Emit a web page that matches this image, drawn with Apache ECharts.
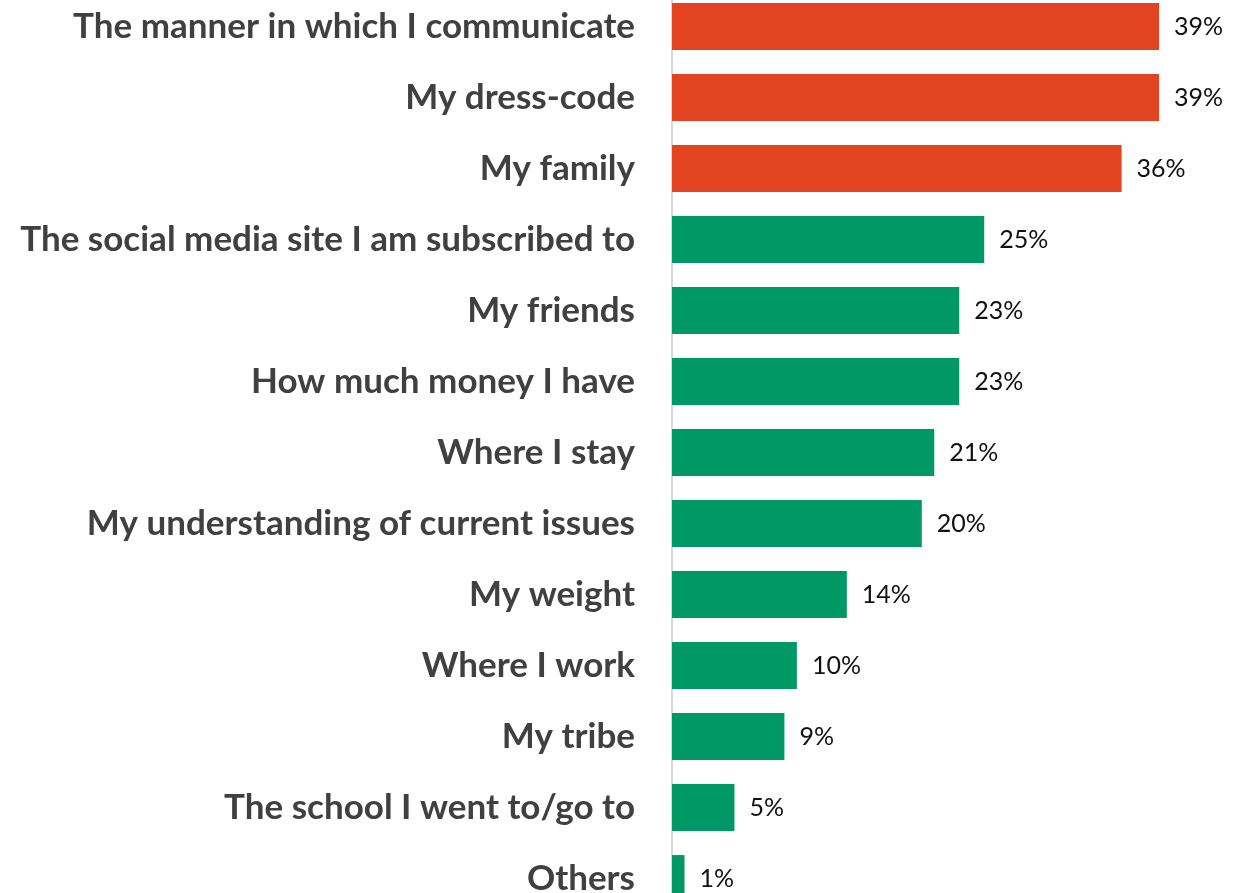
<!DOCTYPE html>
<html>
<head>
<meta charset="utf-8">
<style>
  html, body { margin: 0; padding: 0; background: #ffffff; }
  #chart { width: 1246px; height: 893px; }
</style>
<script src="https://cdn.jsdelivr.net/npm/echarts@6/dist/echarts.min.js"></script>
</head>
<body>
<div id="chart"></div>
<script>
// Share of respondents naming each factor (percent)
const categories = [
  'The manner in which I communicate',
  'My dress-code',
  'My family',
  'The social media site I am subscribed to',
  'My friends',
  'How much money I have',
  'Where I stay',
  'My understanding of current issues',
  'My weight',
  'Where I work',
  'My tribe',
  'The school I went to/go to',
  'Others'
];
const values = [39, 39, 36, 25, 23, 23, 21, 20, 14, 10, 9, 5, 1];
// The top three factors are highlighted
const highlightCount = 3;

const RED = '#E24422';
const GREEN = '#009966';

const chart = echarts.init(document.getElementById('chart'), null, { renderer: 'canvas' });

chart.setOption({
  animation: false,
  backgroundColor: '#ffffff',
  grid: {
    left: 672, width: 562, top: -9, height: 923,
    containLabel: false,
    outerBoundsMode: 'none'
  },
  xAxis: {
    type: 'value',
    min: 0,
    max: 45,
    show: false,
    splitLine: { show: false }
  },
  yAxis: {
    type: 'category',
    inverse: true,
    data: categories,
    axisLine: { show: true, lineStyle: { color: '#d9d9d9', width: 2 } },
    axisTick: { show: false },
    axisLabel: {
      margin: 37,
      color: '#404040',
      fontFamily: 'Lato',
      fontWeight: 'bold',
      fontSize: 35
    }
  },
  series: [{
    type: 'bar',
    data: values.map((v, i) => ({
      value: v,
      itemStyle: { color: i < highlightCount ? RED : GREEN }
    })),
    barCategoryGap: '34%',
    label: {
      show: true,
      position: 'right',
      distance: 15,
      color: '#111111',
      fontFamily: 'Lato',
      fontSize: 25,
      formatter: p => p.value + '%'
    }
  }]
});
</script>
</body>
</html>
